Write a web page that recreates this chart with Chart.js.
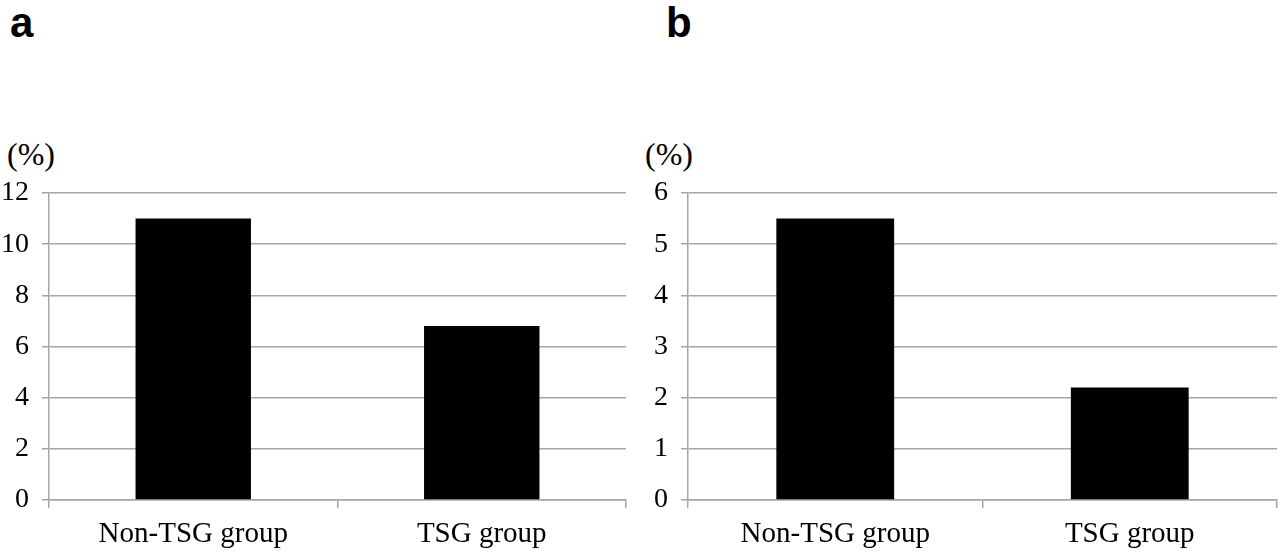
<!DOCTYPE html>
<html>
<head>
<meta charset="utf-8">
<script src="https://cdn.jsdelivr.net/npm/chart.js@4"></script>
<style>
  body { margin: 0; background: #fff; width: 1279px; height: 553px; overflow: hidden; position: relative; }
  .box { position: absolute; top: 0; height: 553px; }
  .panel { position: absolute; font: bold 42px "Liberation Sans", Arial, sans-serif; line-height: 1; }
  .unit { position: absolute; font: 32px "Liberation Serif", "Times New Roman", serif; line-height: 1; }
</style>
</head>
<body>
<div class="panel" style="left:10px; top:2px;">a</div>
<div class="panel" style="left:666px; top:2px;">b</div>
<div class="unit" style="left:7px; top:138px;">(%)</div>
<div class="unit" style="left:645px; top:138px;">(%)</div>
<div class="box" style="left:0; width:636px;"><canvas id="chart-a"></canvas></div>
<div class="box" style="left:639px; width:640px;"><canvas id="chart-b"></canvas></div>
<script>
// Data
const groups = ["Non-TSG group", "TSG group"];
const valuesA = [11.0, 6.8];
const valuesB = [5.5, 2.2];
const axisA = { max: 12, step: 2 };
const axisB = { max: 6, step: 1 };

const gridColor = "#a6a6a6";
const serif = "'Liberation Serif', 'Times New Roman', serif";

function makeChart(id, values, axis, rightPad) {
    return new Chart(document.getElementById(id), {
        type: "bar",
        data: {
            labels: groups,
            datasets: [{
                data: values,
                backgroundColor: "#000",
                borderWidth: 0,
                categoryPercentage: 1,
                barPercentage: 0.4
            }]
        },
        options: {
            responsive: true,
            maintainAspectRatio: false,
            animation: false,
            layout: { padding: { top: 193, right: rightPad, bottom: 0, left: 0 } },
            plugins: { legend: { display: false }, tooltip: { enabled: false } },
            scales: {
                x: {
                    grid: { offset: true, drawOnChartArea: false, color: gridColor, lineWidth: 1.5, tickLength: 8 },
                    border: { color: gridColor, width: 1.5 },
                    ticks: { color: "#000", font: { family: serif, size: 29 }, padding: 9 },
                    afterFit: function (scale) { scale.height = 53; }
                },
                y: {
                    min: 0,
                    max: axis.max,
                    grid: { color: gridColor, lineWidth: 1.5, tickLength: 7 },
                    border: { color: gridColor, width: 1.5 },
                    ticks: { stepSize: axis.step, color: "#000", font: { family: serif, size: 28 }, padding: 13 },
                    afterFit: function (scale) { scale.width = 49; }
                }
            }
        }
    });
}

makeChart("chart-a", valuesA, axisA, 10);
makeChart("chart-b", valuesB, axisB, 2);
</script>
</body>
</html>
